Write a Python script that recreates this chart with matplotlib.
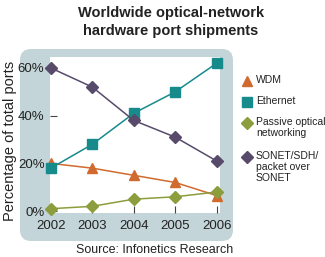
import matplotlib
matplotlib.use("Agg")
import matplotlib.pyplot as plt
from matplotlib.patches import FancyBboxPatch
from matplotlib.transforms import IdentityTransform

plt.rcParams['font.family'] = ['Liberation Sans', 'DejaVu Sans']

years = [2002, 2003, 2004, 2005, 2006]
wdm = [20, 18, 15, 12, 6.5]
ethernet = [18, 28, 41, 50, 62]
passive = [1, 2, 5, 6, 8]
sonet = [60, 52, 38, 31, 21]
y_ticks = [0, 20, 40, 60]
y_ticklabels = ['0%', '20%', '40%', '60%']

series = [
    ('WDM', wdm, '#d06a2e', '^', 7.5),
    ('Ethernet', ethernet, '#178a8c', 's', 6.5),
    ('Passive optical\nnetworking', passive, '#8b9d3c', 'D', 6.5),
    ('SONET/SDH/\npacket over\nSONET', sonet, '#574a6b', 'D', 6.5),
]

W, H = 325, 257
fig = plt.figure(figsize=(W / 100, H / 100), dpi=100)

# grey rounded backdrop (pixel coords)
box = FancyBboxPatch((20, H - 241), 213, 192,
                     boxstyle="round,pad=0,rounding_size=11",
                     transform=IdentityTransform(), facecolor='#c3d5d8',
                     edgecolor='none', zorder=-5)
fig.patches.append(box)

ax = fig.add_axes([50 / W, 1 - 213 / H, 170 / W, 156 / H])
ax.set_zorder(1)
ax.set_facecolor('white')
for s in ax.spines.values():
    s.set_visible(False)

for name, vals, col, mk, ms in series:
    ax.plot(years, vals, color=col, lw=1.1, marker=mk, markersize=ms,
            markeredgecolor=col, clip_on=False, zorder=3, label=name)

ax.set_xlim(2001.98, 2006.08)
ax.set_ylim(-0.8, 64.6)
ax.set_xticks(years)
ax.set_xticklabels([str(y) for y in years])
ax.set_yticks(y_ticks)
ax.set_yticklabels(y_ticklabels)
ax.tick_params(axis='both', direction='in', length=5, width=0.8,
               color='#444444', labelsize=9.5, labelcolor='#222222')
ax.tick_params(axis='y', pad=4)
ax.tick_params(axis='x', pad=5)

fig.text(10 / W, 1 - 141 / H, 'Percentage of total ports', rotation=90,
         ha='center', va='center', fontsize=10.5, color='#222222')

fig.text(171 / W, 1 - 13 / H, 'Worldwide optical-network', ha='center',
         va='center', fontsize=10.5, fontweight='bold', color='#222222')
fig.text(171 / W, 1 - 31 / H, 'hardware port shipments', ha='center',
         va='center', fontsize=10.5, fontweight='bold', color='#222222')

fig.text(155 / W, 1 - 250 / H, 'Source: Infonetics Research', ha='center',
         va='center', fontsize=9, color='#222222')

# legend drawn by hand
leg_y = [81, 102, 123, 157]
for (name, vals, col, mk, ms), y in zip(series, leg_y):
    fig.lines.append(plt.Line2D([247 / W], [1 - y / H], marker=mk,
                                markersize=ms, color=col,
                                markeredgecolor=col,
                                transform=fig.transFigure))
    fig.text(256 / W, 1 - (y - 6) / H, name, ha='left', va='top',
             fontsize=7.5, color='#222222', linespacing=1.1)

fig.savefig('out.png', dpi=100)
